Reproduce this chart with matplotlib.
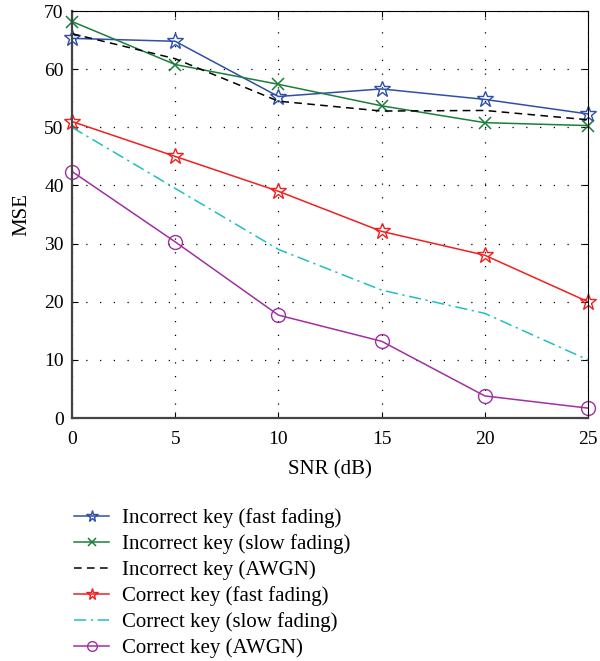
import matplotlib
matplotlib.use('Agg')
import matplotlib.pyplot as plt

plt.rcParams['font.family'] = ['Liberation Serif', 'DejaVu Serif']

snr = [0, 5, 10, 15, 20, 25]
inc_fast = [65.3, 64.8, 55.3, 56.6, 54.8, 52.3]
inc_slow = [68.2, 60.8, 57.4, 53.7, 50.8, 50.3]
inc_awgn = [66.1, 61.8, 54.5, 52.8, 52.9, 51.3]
cor_fast = [51.0, 45.0, 39.0, 32.1, 28.0, 20.0]
cor_slow = [50.0, 39.5, 29.0, 22.0, 18.0, 10.0]
cor_awgn = [42.4, 30.3, 17.7, 13.2, 3.8, 1.7]

labels = ['Incorrect key (fast fading)', 'Incorrect key (slow fading)',
          'Incorrect key (AWGN)', 'Correct key (fast fading)',
          'Correct key (slow fading)', 'Correct key (AWGN)']

fig = plt.figure(figsize=(6, 6.61), dpi=100)
ax = fig.add_axes([0.12, 0.3676, 0.86, 0.6157])

ax.plot(snr, inc_fast, color='#2f4fa8', lw=1.1, marker='*', ms=12,
        mfc='none', mec='#2f4fa8', mew=1.0, label=labels[0], clip_on=False)
ax.plot(snr, inc_slow, color='#1b7f3a', lw=1.1, marker='x', ms=8,
        mew=1.1, label=labels[1], clip_on=False)
ax.plot(snr, inc_awgn, color='black', lw=1.1, ls=(0, (5, 3.5)), label=labels[2])
ax.plot(snr, cor_fast, color='#f02020', lw=1.1, marker='*', ms=12,
        mfc='none', mec='#f02020', mew=1.0, label=labels[3], clip_on=False)
ax.plot(snr, cor_slow, color='#20c0c0', lw=1.1, ls=(0, (8, 3, 1.5, 3)), label=labels[4])
ax.plot(snr, cor_awgn, color='#a030a0', lw=1.1, marker='o', ms=10,
        mfc='none', mec='#a030a0', mew=1.0, label=labels[5], clip_on=False)

ax.set_xlim(0, 25)
ax.set_ylim(0, 70)
ax.set_xticks(snr)
ax.set_yticks(range(0, 71, 10))
ax.grid(True, color='black', ls=(0, (1, 10)), lw=0.9)
ax.tick_params(direction='in', top=True, right=True, labelsize=14, length=4)
ax.tick_params(axis='x', pad=9)
ax.tick_params(axis='y', pad=6)
for s in ['left', 'bottom']:
    ax.spines[s].set_color('#444444')
    ax.spines[s].set_linewidth(1.6)
for s in ['top', 'right']:
    ax.spines[s].set_linewidth(0.8)
ax.set_xlabel('SNR (dB)', fontsize=15, labelpad=9)
ax.set_ylabel('MSE', fontsize=15, labelpad=9)

h, l = ax.get_legend_handles_labels()
fig.legend(h, l, loc='upper left', bbox_to_anchor=(0.092, 0.26), frameon=False,
           fontsize=15, handlelength=1.7, handletextpad=0.6, labelspacing=0.3,
           markerscale=0.7)

fig.savefig('out.png', dpi=100)
